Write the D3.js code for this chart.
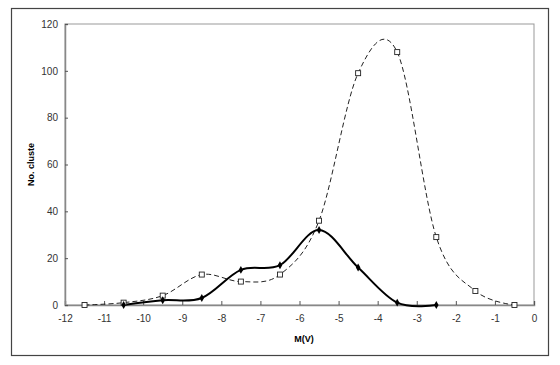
<!DOCTYPE html>
<html><head><meta charset="utf-8">
<script src="https://cdn.jsdelivr.net/npm/d3@7"></script>
<style>body{margin:0;background:#fff}svg{display:block}</style>
</head><body>
<script>
const solidX = [-10.5, -9.5, -8.5, -7.5, -6.5, -5.5, -4.5, -3.5, -2.5];
const solidY = [0, 2, 3, 15, 17, 32, 16, 1, 0];
const dashX = [-11.5, -10.5, -9.5, -8.5, -7.5, -6.5, -5.5, -4.5, -3.5, -2.5, -1.5, -0.5];
const dashY = [0, 1, 4, 13, 10, 13, 36, 99, 108, 29, 6, 0];
const xTicks = [-12, -11, -10, -9, -8, -7, -6, -5, -4, -3, -2, -1, 0];
const yTicks = [0, 20, 40, 60, 80, 100, 120];
const xTitle = "M(V)";
const yTitle = "No. cluste";

const W = 560, H = 365;
const svg = d3.select("body").append("svg").attr("width", W).attr("height", H);
svg.append("rect").attr("x", 11.5).attr("y", 8.5).attr("width", 537).attr("height", 347)
  .attr("fill", "#fff").attr("stroke", "#444").attr("stroke-width", 1.2);

const L = 65, R = 534, T = 24, B = 305;
const x = d3.scaleLinear().domain([-12, 0]).range([L, R]);
const y = d3.scaleLinear().domain([0, 120]).range([B, T]);

svg.append("rect").attr("x", L).attr("y", T).attr("width", R - L).attr("height", B - T)
  .attr("fill", "none").attr("stroke", "#999").attr("stroke-width", 1);

const font = "Arial, 'Liberation Sans', sans-serif";
const xAxis = svg.append("g").attr("transform", `translate(0,${B})`)
  .call(d3.axisBottom(x).tickValues(xTicks).tickSize(-4).tickPadding(10).tickFormat(d => String(d)));
const yAxis = svg.append("g").attr("transform", `translate(${L},0)`)
  .call(d3.axisLeft(y).tickValues(yTicks).tickSize(-3).tickPadding(7).tickFormat(d => String(d)));
[xAxis, yAxis].forEach(g => {
  g.select(".domain").attr("stroke", "#888").attr("stroke-width", 1.5);
  g.selectAll(".tick line").attr("stroke", "#555");
  g.selectAll("text").attr("font-family", font).attr("font-size", 10).attr("fill", "#333");
});
xAxis.selectAll("text").attr("dy", "0.71em");

svg.append("text").attr("x", 304).attr("y", 342).attr("text-anchor", "middle")
  .attr("font-family", font).attr("font-size", 9).attr("font-weight", "bold").text(xTitle);
svg.append("text").attr("transform", `translate(34,${(T + B) / 2}) rotate(-90)`)
  .attr("text-anchor", "middle").attr("font-family", font).attr("font-size", 9)
  .attr("font-weight", "bold").text(yTitle);

const line = d3.line().x(d => x(d[0])).y(d => y(d[1])).curve(d3.curveCardinal.tension(0));
const dashData = dashX.map((v, i) => [v, dashY[i]]);
const solidData = solidX.map((v, i) => [v, solidY[i]]);

svg.append("path").datum(dashData).attr("d", line).attr("fill", "none")
  .attr("stroke", "#222").attr("stroke-width", 1).attr("stroke-dasharray", "5,3");
svg.append("path").datum(solidData).attr("d", line).attr("fill", "none")
  .attr("stroke", "#000").attr("stroke-width", 2);

svg.selectAll(".sq").data(dashData).enter().append("rect")
  .attr("x", d => x(d[0]) - 2.5).attr("y", d => y(d[1]) - 2.5)
  .attr("width", 5).attr("height", 5).attr("fill", "#fff").attr("stroke", "#222").attr("stroke-width", 0.9);
svg.selectAll(".dm").data(solidData).enter().append("path")
  .attr("d", d3.symbol(d3.symbolDiamond, 18)())
  .attr("transform", d => `translate(${x(d[0])},${y(d[1])})`).attr("fill", "#000");
</script>
</body></html>
